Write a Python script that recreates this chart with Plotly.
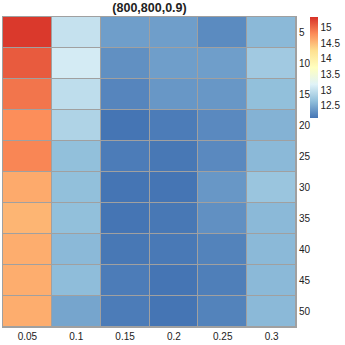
import plotly.graph_objects as go

# Columns (x) and rows (y) of the heatmap
cols = ["0.05", "0.1", "0.15", "0.2", "0.25", "0.3"]
rows = ["5", "10", "15", "20", "25", "30", "35", "40", "45", "50"]

# Cell values, one list per row
r5 = [15.30, 13.00, 12.40, 12.40, 12.26, 12.60]
r10 = [15.10, 13.10, 12.30, 12.40, 12.40, 12.75]
r15 = [14.95, 12.95, 12.22, 12.35, 12.35, 12.65]
r20 = [14.80, 12.85, 12.10, 12.15, 12.25, 12.55]
r25 = [14.85, 12.65, 12.15, 12.12, 12.25, 12.60]
r30 = [14.62, 12.65, 12.10, 12.10, 12.35, 12.70]
r35 = [14.55, 12.65, 12.08, 12.12, 12.30, 12.60]
r40 = [14.60, 12.60, 12.12, 12.13, 12.20, 12.60]
r45 = [14.60, 12.63, 12.15, 12.10, 12.17, 12.60]
r50 = [14.60, 12.45, 12.15, 12.08, 12.20, 12.60]
z = [r5, r10, r15, r20, r25, r30, r35, r40, r45, r50]

# pheatmap default palette (reversed RdYlBu, 7 classes)
palette = ["#4575b4", "#91bfdb", "#e0f3f8", "#ffffbf", "#fee090", "#fc8d59", "#d73027"]
scale = [[i / (len(palette) - 1), c] for i, c in enumerate(palette)]

fig = go.Figure(go.Heatmap(
    z=z, x=cols, y=rows,
    colorscale=scale, zmin=12.1, zmax=15.35,
    xgap=1, ygap=1,
    colorbar=dict(
        x=1.048, xanchor="left", y=1, yanchor="top",
        xpad=0, ypad=0,
        thickness=8, len=101, lenmode="pixels",
        outlinewidth=0, ticks="",
        tickvals=[12.5, 13, 13.5, 14, 14.5, 15],
        ticktext=["12.5", "13", "13.5", "14", "14.5", "15"],
        tickfont=dict(size=10, color="#222"),
    ),
))

fig.update_layout(
    width=345, height=345,
    margin=dict(l=3, r=49, t=17, b=18),
    title=dict(text="<b>(800,800,0.9)</b>", x=0.5, xref="paper", xanchor="center",
               y=0.977, yref="container", yanchor="middle",
               font=dict(size=12.5, color="#222")),
    font=dict(family="Liberation Sans, Arial, sans-serif", size=10, color="#222"),
    plot_bgcolor="#a0a0a0",
    paper_bgcolor="white",
)
fig.update_xaxes(showgrid=False, zeroline=False, ticks="", ticklen=0,
                 showline=True, linecolor="#a0a0a0", mirror=True)
fig.update_yaxes(side="right", autorange="reversed", showgrid=False,
                 zeroline=False, ticks="", showline=True,
                 linecolor="#a0a0a0", mirror=True)

# drop the page's default body margin so the figure sits at the window corner
fig.write_html("out.html", config={"displayModeBar": False},
               post_script="document.body.style.margin='0';")
